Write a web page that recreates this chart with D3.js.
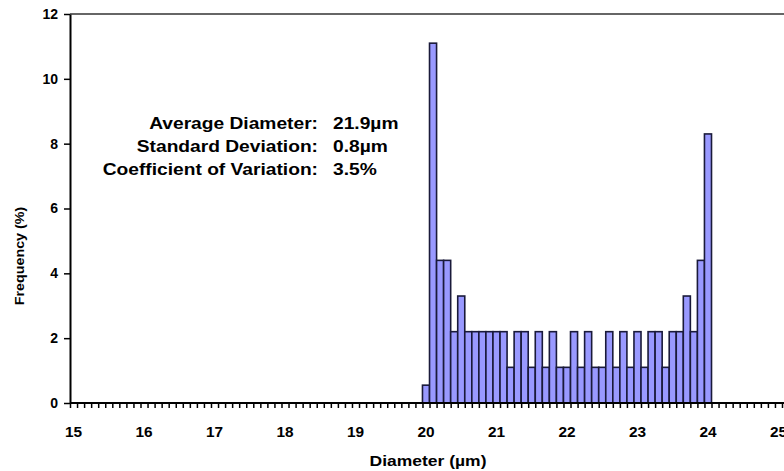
<!DOCTYPE html>
<html><head><meta charset="utf-8">
<script src="https://cdn.jsdelivr.net/npm/d3@7/dist/d3.min.js"></script>
<style>body{margin:0;background:#fff} svg{display:block} text{font-family:"Liberation Sans",Arial,sans-serif;font-weight:bold;fill:#000}</style>
</head><body><svg id="c" width="784" height="471"></svg>
<script>
// ---- data ----
const diameters = [20.0,20.1,20.2,20.3,20.4,20.5,20.6,20.7,20.8,20.9,
  21.0,21.1,21.2,21.3,21.4,21.5,21.6,21.7,21.8,21.9,
  22.0,22.1,22.2,22.3,22.4,22.5,22.6,22.7,22.8,22.9,
  23.0,23.1,23.2,23.3,23.4,23.5,23.6,23.7,23.8,23.9,24.0];
const frequency = [0.55,11.1,4.4,4.4,2.2,3.3,2.2,2.2,2.2,2.2,
  2.2,2.2,1.1,2.2,2.2,1.1,2.2,1.1,2.2,1.1,
  1.1,2.2,1.1,2.2,1.1,1.1,2.2,1.1,2.2,1.1,
  2.2,1.1,2.2,2.2,1.1,2.2,2.2,3.3,2.2,4.4,8.3];
const xTickLabels = [15,16,17,18,19,20,21,22,23,24,25];
const yTickLabels = [0,2,4,6,8,10,12];
const statNames = ["Average Diameter:","Standard Deviation:","Coefficient of Variation:"];
const statValues = ["21.9\u00b5m","0.8\u00b5m","3.5%"];
const binWidth = 0.1;

// ---- layout ----
const svg = d3.select("#c");
const mLeft = 70, mTop = 14, mBottom = 403, mRight = 782;
const x = d3.scaleLinear().domain([15, 25.1]).range([mLeft, mRight]);
const y = d3.scaleLinear().domain([0, 12]).range([mBottom, mTop]);

// top border
svg.append("line").attr("x1", mLeft).attr("x2", 784).attr("y1", mTop).attr("y2", mTop)
  .attr("stroke", "#666").attr("stroke-width", 2);

// bars
svg.append("g").selectAll("rect").data(diameters).join("rect")
  .attr("x", d => x(d))
  .attr("width", d => x(d + binWidth) - x(d))
  .attr("y", (d, i) => y(frequency[i]))
  .attr("height", (d, i) => y(0) - y(frequency[i]))
  .attr("fill", "#9999ff").attr("stroke", "#1a1a3a").attr("stroke-width", 1.6);

// x axis minor ticks (one per bin boundary)
const minor = d3.range(0, 102).map(i => 15 + i * binWidth);
const gx = svg.append("g").attr("transform", `translate(0,${mBottom})`)
  .call(d3.axisBottom(x).tickValues(minor).tickFormat("").tickSize(5).tickSizeOuter(0));
gx.select(".domain").attr("stroke", "#000").attr("stroke-width", 2).attr("d", `M${mLeft},0H784`);
gx.selectAll(".tick line").attr("stroke", "#000").attr("stroke-width", 1.5);

// x tick labels centred on each labelled bin
svg.append("g").selectAll("text").data(xTickLabels).join("text")
  .attr("transform", d => `translate(${x(d + binWidth / 2)},433) scale(1.1,1)`)
  .attr("text-anchor", "middle").attr("dominant-baseline", "middle")
  .attr("font-size", 14).text(d => d);

// y axis
const gy = svg.append("g").attr("transform", `translate(${mLeft},0)`)
  .call(d3.axisLeft(y).tickValues(yTickLabels).tickSize(6).tickSizeOuter(0).tickPadding(6));
gy.select(".domain").attr("stroke", "#000").attr("stroke-width", 2);
gy.selectAll(".tick line").attr("stroke", "#000").attr("stroke-width", 1.5);
gy.selectAll(".tick text").attr("font-size", 14).attr("font-family", null).attr("fill", "#000");

// axis titles
svg.append("text").attr("transform", "translate(428,462) scale(1.25,1)").attr("text-anchor", "middle")
  .attr("dominant-baseline", "middle").attr("font-size", 14).text("Diameter (\u00b5m)");
svg.append("text").attr("transform", "translate(20,256) rotate(-90) scale(1.1,1.05)")
  .attr("text-anchor", "middle").attr("dominant-baseline", "middle")
  .attr("font-size", 13).text("Frequency (%)");

// statistics annotation
const ann = svg.append("g");
statNames.forEach((s, i) => {
  const yy = 125 + i * 23;
  ann.append("text").attr("transform", `translate(318,${yy}) scale(1.2,1)`)
    .attr("text-anchor", "end").attr("dominant-baseline", "middle")
    .attr("font-size", 16).text(s);
  ann.append("text").attr("transform", `translate(333,${yy}) scale(1.2,1)`)
    .attr("text-anchor", "start").attr("dominant-baseline", "middle")
    .attr("font-size", 16).text(statValues[i]);
});
</script></body></html>
